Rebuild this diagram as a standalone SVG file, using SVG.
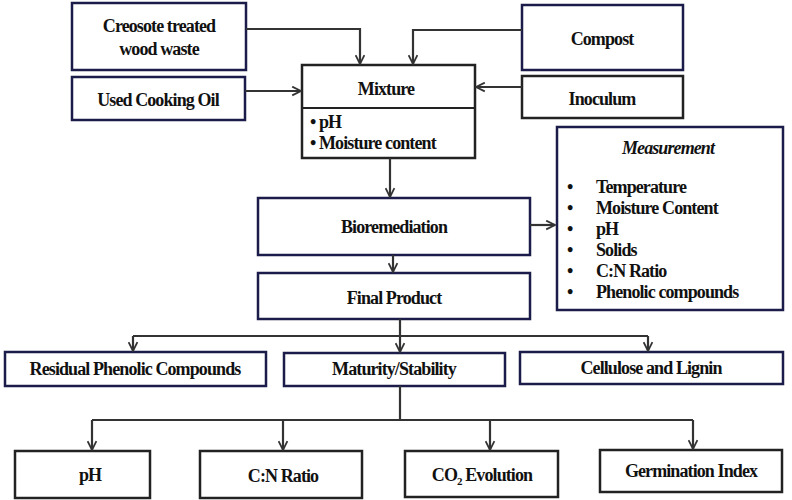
<svg xmlns="http://www.w3.org/2000/svg" width="792" height="500" viewBox="0 0 792 500">
<defs>
<marker id="a" viewBox="0 0 10 10" refX="9" refY="5" markerWidth="5" markerHeight="5" orient="auto"><path d="M1,1 L9,5 L1,9" fill="none" stroke="#333" stroke-width="1.6"/></marker>
</defs>
<style>
.b{fill:#fff;stroke:#1c1c4a;stroke-width:2.5}
.k{fill:#fff;stroke:#222;stroke-width:2.5}
text{font-family:"Liberation Serif","Times New Roman",serif;font-weight:bold;font-size:18px;letter-spacing:-0.9px;fill:#111}
.c{text-anchor:middle}
.l{fill:none;stroke:#333;stroke-width:2.2;marker-end:url(#a)}
.n{fill:none;stroke:#333;stroke-width:2.2}
</style>
<rect width="792" height="500" fill="#fff"/>
<g id="creosote"><rect class="b" x="72" y="3" width="174" height="67"/><text class="c" x="159" y="32">Creosote treated</text><text class="c" x="159" y="55">wood waste</text></g>
<g id="compost"><rect class="b" x="522" y="5" width="161" height="65"/><text class="c" x="602" y="45">Compost</text></g>
<g id="oil"><rect class="b" x="72" y="77" width="173" height="43"/><text class="c" x="158" y="106">Used Cooking Oil</text></g>
<g id="inoculum"><rect class="k" x="522" y="76" width="161" height="42"/><text class="c" x="602" y="105">Inoculum</text></g>
<g id="mixture"><rect class="k" x="302" y="65" width="173" height="93"/><line x1="302" y1="108" x2="475" y2="108" stroke="#222" stroke-width="2"/><text class="c" x="386" y="95">Mixture</text><text x="310" y="128">•  pH</text><text x="310" y="149">•  Moisture content</text></g>
<g id="measurement"><rect class="b" x="557" y="127" width="226" height="183"/><text class="c" x="668" y="154" font-style="italic">Measurement</text>
<text x="567" y="193">•</text><text x="596" y="193">Temperature</text>
<text x="567" y="214">•</text><text x="596" y="214">Moisture Content</text>
<text x="567" y="235">•</text><text x="596" y="235">pH</text>
<text x="567" y="256">•</text><text x="596" y="256">Solids</text>
<text x="567" y="277">•</text><text x="596" y="277">C:N Ratio</text>
<text x="567" y="298">•</text><text x="596" y="298">Phenolic compounds</text></g>
<g id="bioremediation"><rect class="b" x="258" y="198" width="272" height="57"/><text class="c" x="394" y="233">Bioremediation</text></g>
<g id="final"><rect class="b" x="258" y="273" width="272" height="46"/><text class="c" x="394" y="304">Final Product</text></g>
<g id="residual"><rect class="b" x="5" y="352" width="261" height="34"/><text class="c" x="135" y="375" font-size="16">Residual Phenolic Compounds</text></g>
<g id="maturity"><rect class="b" x="284" y="353" width="221" height="33"/><text class="c" x="394" y="375" font-size="17">Maturity/Stability</text></g>
<g id="cellulose"><rect class="b" x="520" y="352" width="263" height="32"/><text class="c" x="651" y="374" font-size="15">Cellulose and Lignin</text></g>
<g id="ph"><rect class="k" x="15" y="451" width="135" height="47"/><text class="c" x="90" y="481">pH</text></g>
<g id="cn"><rect class="k" x="200" y="451" width="162" height="47"/><text class="c" x="283" y="482">C:N Ratio</text></g>
<g id="co2"><rect class="k" x="405" y="451" width="153" height="46"/><text class="c" x="482" y="481">CO<tspan font-size="11" dy="4">2</tspan><tspan dy="-4"> Evolution</tspan></text></g>
<g id="germ"><rect class="k" x="600" y="450" width="182" height="42"/><text class="c" x="691" y="477">Germination Index</text></g>
<g id="connectors">
<path class="l" d="M246,29 H360 V64"/>
<path class="l" d="M522,30 H413 V64"/>
<path class="l" d="M245,91 H301"/>
<path class="l" d="M522,87 H476"/>
<path class="l" d="M390,158 V197"/>
<path class="l" d="M530,225 H555"/>
<path class="l" d="M393,255 V272"/>
<path class="n" d="M400,319 V336 M133,336 H648"/>
<path class="l" d="M133,336 V351"/><path class="l" d="M400,336 V352"/><path class="l" d="M648,336 V351"/>
<path class="n" d="M400,386 V420 M92,420 H693"/>
<path class="l" d="M92,420 V450"/><path class="l" d="M283,420 V450"/><path class="l" d="M490,420 V450"/><path class="l" d="M693,420 V449"/>
</g>
</svg>
